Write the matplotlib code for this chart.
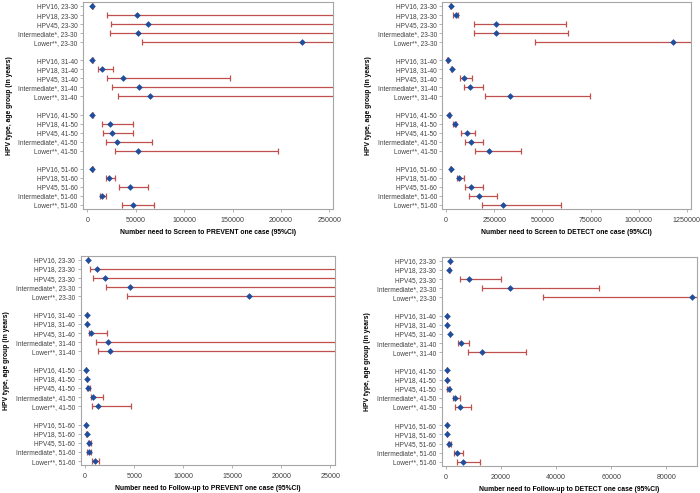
import numpy as np
import matplotlib
matplotlib.use('Agg')
import matplotlib.pyplot as plt
from matplotlib.ticker import FixedLocator, FuncFormatter

plt.rcParams['font.family'] = ['Liberation Sans', 'DejaVu Sans']

# Etiquetas del eje Y (tipo de VPH, grupo de edad)
tipos = ['HPV16', 'HPV18', 'HPV45', 'Intermediate*', 'Lower**']
edades = ['23-30', '31-40', '41-50', '51-60']

# Panel A: tamizar para PREVENIR un caso (punto, IC inferior, IC superior)
prev_screen = [5200, 51000, 62700, 52300, 221400,
               5200, 15200, 36800, 53700, 65100,
               5200, 23400, 25100, 30300, 52700,
               5200, 22400, 43700, 15500, 47500]
prev_screen_lo = [4800, 20000, 24400, 23800, 56100,
                  4800, 10700, 20700, 25800, 32000,
                  4800, 14800, 15800, 19300, 28900,
                  4800, 18900, 33100, 13100, 35500]
prev_screen_hi = [5600, 400000, 400000, 400000, 400000,
                  5600, 26900, 147000, 400000, 400000,
                  5600, 47500, 47500, 66500, 197300,
                  5600, 28900, 63000, 19300, 68900]

# Panel B: tamizar para DETECTAR un caso
det_screen = [22500, 48500, 258300, 258300, 1177200,
              6900, 27700, 93600, 123100, 331100,
              15600, 43300, 105800, 126600, 220200,
              22500, 67600, 126600, 168200, 296500]
det_screen_lo = [20000, 36400, 145600, 145600, 462900,
                 6000, 24000, 72800, 93600, 202800,
                 13500, 36000, 78000, 95400, 147400,
                 19000, 57200, 95400, 119600, 187200]
det_screen_hi = [25000, 62400, 620600, 634500, 2000000,
                 8000, 32000, 135200, 192400, 749000,
                 18000, 52000, 150800, 192400, 390100,
                 26000, 93600, 192400, 263500, 598100]

# Panel C: seguimiento para PREVENIR un caso
prev_follow = [303, 1213, 2021, 4582, 16677,
               168, 168, 573, 2291, 2560,
               101, 168, 303, 809, 1280,
               101, 135, 404, 371, 1011]
prev_follow_lo = [280, 505, 842, 2089, 4211,
                  150, 150, 404, 1112, 1280,
                  90, 150, 135, 539, 674,
                  90, 120, 236, 202, 707]
prev_follow_hi = [330, 60000, 60000, 60000, 60000,
                  190, 190, 2257, 60000, 60000,
                  115, 190, 472, 1786, 4649,
                  115, 150, 573, 539, 1449]

# Panel D: seguimiento para DETECTAR un caso
det_follow = [1448, 1207, 8446, 23046, 89170,
              241, 241, 1448, 5550, 13031,
              241, 241, 965, 3258, 5188,
              241, 241, 1086, 3982, 6274]
det_follow_lo = [1300, 1100, 4947, 13152, 35233,
                 220, 220, 1300, 4223, 7964,
                 220, 220, 483, 2413, 3378,
                 220, 220, 603, 2775, 4102]
det_follow_hi = [1600, 1320, 20030, 55624, 200000,
                 265, 265, 1600, 8205, 29079,
                 265, 265, 1569, 5068, 9170,
                 265, 265, 1689, 6154, 12428]

ticks_a = [0, 50000, 100000, 150000, 200000, 250000]
ticks_b = [0, 250000, 500000, 750000, 1000000, 1250000]
ticks_c = [0, 5000, 10000, 15000, 20000, 25000]
ticks_d = [0, 20000, 40000, 60000, 80000]

etiquetas = [f'{t}, {e}' for e in edades for t in tipos]
posiciones = [g * 6 + i for g in range(len(edades)) for i in range(len(tipos))]

AZUL = '#1F4E9C'
ROJO = '#C0504D'
GRIS = '#A6A6A6'


def dibujar_panel(ax, valores, lo, hi, ticks, xlim, xlabel):
    valores = np.array(valores, dtype=float)
    err = [valores - np.array(lo), np.array(hi) - valores]
    ax.errorbar(valores, posiciones, xerr=err, fmt='none', ecolor=ROJO,
                elinewidth=0.9, capsize=2.2, capthick=0.9)
    ax.plot(valores, posiciones, 'D', color=AZUL, markersize=3.4,
            markeredgewidth=0)
    ax.set_yticks(posiciones)
    ax.set_yticklabels(etiquetas)
    ax.set_ylim(22.45, -0.45)
    ax.xaxis.set_major_locator(FixedLocator(ticks))
    ax.xaxis.set_major_formatter(FuncFormatter(lambda v, p: f'{int(v)}'))
    ax.set_xlim(*xlim)
    ax.tick_params(axis='y', labelsize=4.7, length=2.5, width=0.6,
                   color=GRIS, labelcolor='#404040', pad=1.5)
    ax.tick_params(axis='x', labelsize=5.1, length=2.5, width=0.6,
                   color=GRIS, labelcolor='#404040', pad=3)
    for s in ax.spines.values():
        s.set_color(GRIS)
        s.set_linewidth(0.8)
    ax.set_xlabel(xlabel, fontsize=4.9, fontweight='bold', labelpad=4)
    ax.set_ylabel('HPV type, age group (in years)', fontsize=4.9,
                  fontweight='bold', labelpad=4)


fig = plt.figure(figsize=(7, 4.93), dpi=100)
ax1 = fig.add_axes([0.119, 0.576, 0.357, 0.420])
ax2 = fig.add_axes([0.632, 0.576, 0.3546, 0.420])
ax3 = fig.add_axes([0.1153, 0.0562, 0.363, 0.425])
ax4 = fig.add_axes([0.631, 0.0548, 0.364, 0.4245])

dibujar_panel(ax1, prev_screen, prev_screen_lo, prev_screen_hi, ticks_a,
              (-4100, 254000), 'Number need to Screen to PREVENT one case (95%CI)')
dibujar_panel(ax2, det_screen, det_screen_lo, det_screen_hi, ticks_b,
              (-20000, 1270000), 'Number need to Screen to DETECT one case (95%CI)')
dibujar_panel(ax3, prev_follow, prev_follow_lo, prev_follow_hi, ticks_c,
              (-460, 25450), 'Number need to Follow-up to PREVENT one case (95%CI)')
dibujar_panel(ax4, det_follow, det_follow_lo, det_follow_hi, ticks_d,
              (-1560, 90900), 'Number need to Follow-up to DETECT one case (95%CI)')

fig.savefig('out.png', dpi=100)
